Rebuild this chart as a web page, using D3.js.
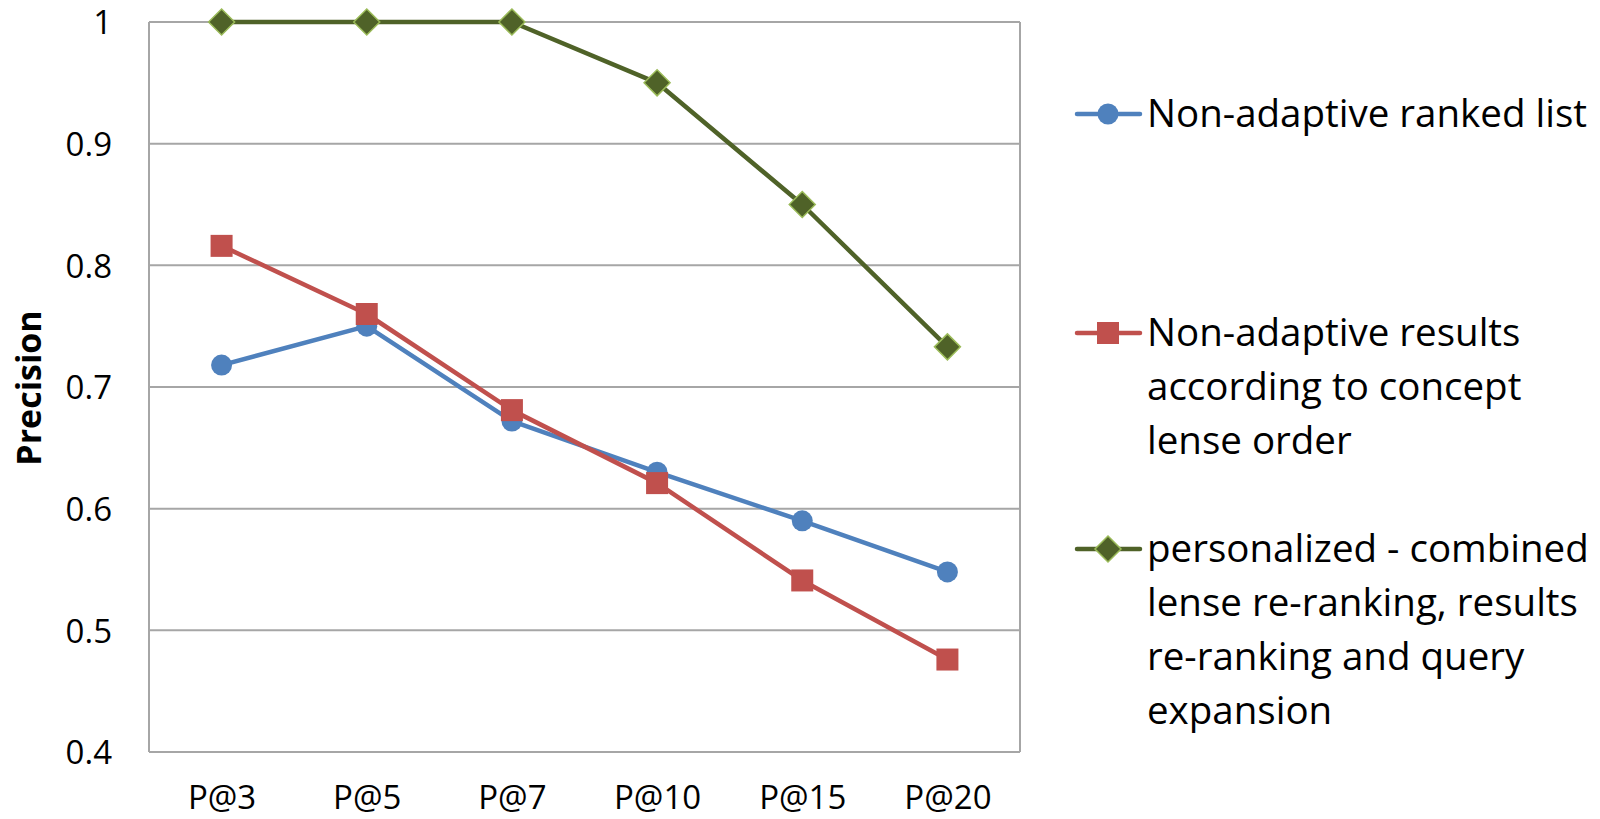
<!DOCTYPE html>
<html>
<head>
<meta charset="utf-8">
<script src="https://cdn.jsdelivr.net/npm/d3@7"></script>
<style>
  html, body { margin: 0; padding: 0; background: #fff; }
  svg { display: block; }
  text { font-family: "Open Sans", "Noto Sans", sans-serif; fill: #000; }
</style>
</head>
<body>
<svg id="chart" width="1600" height="819"></svg>
<script>
// ---- Data ----
const categories = ["P@3", "P@5", "P@7", "P@10", "P@15", "P@20"];
const nonAdaptiveRanked = [0.718, 0.750, 0.672, 0.630, 0.590, 0.548];
const nonAdaptiveLense = [0.816, 0.760, 0.681, 0.621, 0.541, 0.476];
const personalized = [1.0, 1.0, 1.0, 0.950, 0.850, 0.733];
const yTicks = [0.4, 0.5, 0.6, 0.7, 0.8, 0.9, 1.0];
const yTickLabels = ["0.4", "0.5", "0.6", "0.7", "0.8", "0.9", "1"];
const seriesNames = [
  ["Non-adaptive ranked list"],
  ["Non-adaptive results", "according to concept", "lense order"],
  ["personalized - combined", "lense re-ranking, results", "re-ranking and query", "expansion"]
];
const yAxisTitle = "Precision";

// ---- Layout ----
const svg = d3.select("#chart");
const plotL = 149, plotR = 1020, plotT = 22, plotB = 752;

const x = d3.scalePoint().domain(categories).range([plotL, plotR]).padding(0.5);
const y = d3.scaleLinear().domain([0.4, 1.0]).range([plotB, plotT]);

// gridlines
svg.append("g").selectAll("line").data(yTicks).join("line")
  .attr("x1", plotL).attr("x2", plotR)
  .attr("y1", d => y(d)).attr("y2", d => y(d))
  .attr("stroke", "#a6a6a6").attr("stroke-width", 2);

// plot border (left & right)
svg.append("line").attr("x1", plotL).attr("x2", plotL).attr("y1", plotT).attr("y2", plotB)
  .attr("stroke", "#a6a6a6").attr("stroke-width", 2);
svg.append("line").attr("x1", plotR).attr("x2", plotR).attr("y1", plotT).attr("y2", plotB)
  .attr("stroke", "#a6a6a6").attr("stroke-width", 2);

// Y axis
const yAxis = d3.axisLeft(y).tickValues(yTicks).tickSize(0).tickPadding(37)
  .tickFormat((d, i) => yTickLabels[i]);
const gy = svg.append("g").attr("transform", `translate(${plotL},0)`).call(yAxis);
gy.select(".domain").remove();
gy.selectAll("text").attr("font-size", 33).attr("dy", "0.36em")
  .style("font-family", "'Open Sans', sans-serif").attr("fill", "#000");

// X axis
const xAxis = d3.axisBottom(x).tickSize(0);
const gx = svg.append("g").attr("transform", `translate(0,${plotB})`).call(xAxis);
gx.select(".domain").remove();
gx.selectAll("text").attr("font-size", 33).attr("y", 57).attr("dy", 0)
  .style("font-family", "'Open Sans', sans-serif").attr("fill", "#000");

// Y title
svg.append("text")
  .attr("transform", "translate(41,388) rotate(-90)")
  .attr("text-anchor", "middle")
  .attr("font-size", 34).attr("font-weight", "bold")
  .text(yAxisTitle);

// ---- Series ----
const series = [
  { values: nonAdaptiveRanked, color: "#4f81bd", marker: "circle" },
  { values: nonAdaptiveLense, color: "#c0504d", marker: "square" },
  { values: personalized, color: "#4f6228", marker: "diamond" }
];

const line = d3.line().x((d, i) => x(categories[i])).y(d => y(d));

function drawMarker(g, type, color, cx, cy) {
  if (type === "circle") {
    g.append("circle").attr("cx", cx).attr("cy", cy).attr("r", 10.5).attr("fill", color);
  } else if (type === "square") {
    g.append("rect").attr("x", cx - 11).attr("y", cy - 11).attr("width", 22).attr("height", 22).attr("fill", color);
  } else {
    const s = 13;
    g.append("path").attr("d", `M${cx},${cy - s}L${cx + s},${cy}L${cx},${cy + s}L${cx - s},${cy}Z`)
      .attr("fill", color).attr("stroke", "#9bbb59").attr("stroke-width", 1.5);
  }
}

series.forEach(s => {
  svg.append("path").datum(s.values).attr("d", line)
    .attr("fill", "none").attr("stroke", s.color).attr("stroke-width", 4.5)
    .attr("stroke-linejoin", "round");
});
series.forEach(s => {
  const g = svg.append("g");
  s.values.forEach((v, i) => drawMarker(g, s.marker, s.color, x(categories[i]), y(v)));
});

// ---- Legend ----
const legendMarkerY = [114, 333, 549];
const lineH = 54;
series.forEach((s, k) => {
  const g = svg.append("g");
  const my = legendMarkerY[k];
  g.append("line").attr("x1", 1077).attr("x2", 1140).attr("y1", my).attr("y2", my)
    .attr("stroke", s.color).attr("stroke-width", 4.5).attr("stroke-linecap", "round");
  drawMarker(g, s.marker, s.color, 1108, my);
  const t = g.append("text").attr("x", 1147).attr("font-size", 38.5);
  seriesNames[k].forEach((ln, j) => {
    t.append("tspan").attr("x", 1147).attr("y", my + 13 + j * lineH).text(ln);
  });
});
</script>
</body>
</html>
